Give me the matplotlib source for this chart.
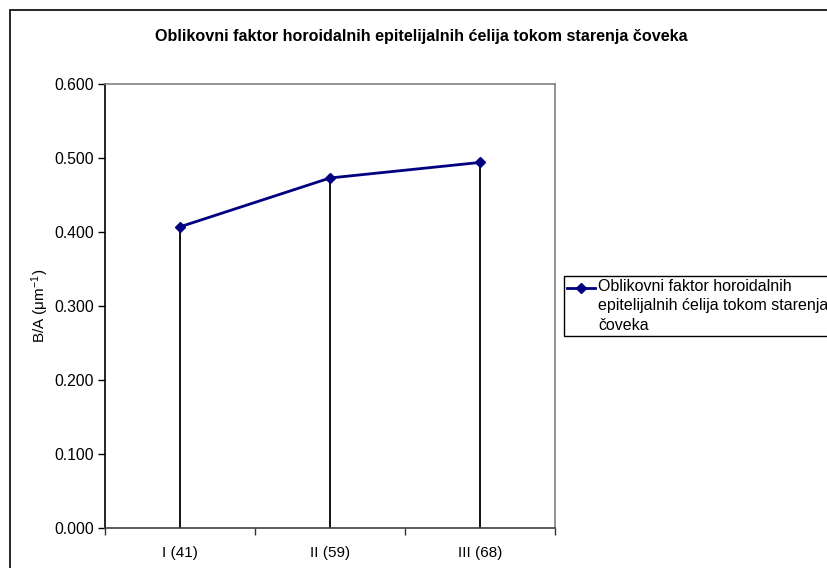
import matplotlib
matplotlib.use('Agg')
import matplotlib.pyplot as plt
from matplotlib.patches import Rectangle
from matplotlib.legend_handler import HandlerLine2D

plt.rcParams['font.family'] = ['Liberation Sans', 'DejaVu Sans']
plt.rcParams['mathtext.fontset'] = 'custom'
plt.rcParams['mathtext.rm'] = 'Liberation Sans'
plt.rcParams['mathtext.it'] = 'Liberation Sans:italic'

# data
categories = ['I (41)', 'II (59)', 'III (68)']
values = [0.407, 0.473, 0.494]
series_name = 'Oblikovni faktor horoidalnih\nepitelijalnih ćelija tokom starenja\nčoveka'
yticks = [0.0, 0.1, 0.2, 0.3, 0.4, 0.5, 0.6]


class TopLineHandler(HandlerLine2D):
    # put the legend line next to the first text line, like Excel does
    def create_artists(self, legend, orig_handle, xdescent, ydescent, width,
                       height, fontsize, trans):
        artists = super().create_artists(legend, orig_handle, xdescent, ydescent,
                                         width, height, fontsize, trans)
        for a in artists:
            a.set_ydata([y + 13 for y in a.get_ydata()])
        return artists


W, H = 827, 568
fig = plt.figure(figsize=(W / 100, H / 100), dpi=100)

# outer chart border (runs off right and bottom)
fig.patches.append(Rectangle((10 / W, -0.1), 1.2, 1 - 10 / H + 0.1,
                             transform=fig.transFigure, fill=False,
                             edgecolor='black', linewidth=1.2, zorder=0))

ax = fig.add_axes([105 / W, 1 - 528 / H, 450 / W, 444 / H])
x = list(range(len(categories)))

# drop lines
ax.vlines(x, 0, values, colors='black', linewidth=1.3, zorder=2)
line, = ax.plot(x, values, color='#000080', linewidth=2, marker='D', markersize=5,
                label=series_name, zorder=3, clip_on=False)

ax.set_xlim(-0.5, 2.5)
ax.set_ylim(0, 0.6)
ax.set_yticks(yticks)
ax.set_yticklabels(['%.3f' % v for v in yticks], fontsize=11.3)
ax.set_xticks([-0.5, 0.5, 1.5, 2.5])
ax.set_xticklabels([])
ax.set_xticks(x, minor=True)
ax.set_xticklabels(categories, minor=True, fontsize=11)
ax.tick_params(axis='x', which='minor', length=0, pad=13)
ax.tick_params(axis='x', which='major', direction='out', length=5, width=1, color='#333333')
ax.tick_params(axis='y', direction='out', length=5, width=1, pad=3)

ax.spines['top'].set_color('#808080')
ax.spines['right'].set_color('#808080')
ax.spines['left'].set_color('black')
ax.spines['bottom'].set_color('#404040')
for s in ax.spines.values():
    s.set_linewidth(1.2)

ax.set_ylabel('B/A (μm$^{-1}$)', fontsize=11, labelpad=2)

fig.text(421 / W, 1 - 37 / H,
         'Oblikovni faktor horoidalnih epitelijalnih ćelija tokom starenja čoveka',
         ha='center', va='center', fontsize=11.6, fontweight='bold')

leg = ax.legend(loc='upper left', bbox_to_anchor=(564 / W, 1 - 276 / H),
                bbox_transform=fig.transFigure, fontsize=11.5, frameon=True,
                fancybox=False, framealpha=1, edgecolor='black',
                borderpad=0.2, handlelength=1.75, handletextpad=0.2,
                borderaxespad=0, handler_map={line: TopLineHandler()})
leg.get_frame().set_linewidth(1)
for t in leg.get_texts():
    t.set_linespacing(1.35)

fig.savefig('out.png', dpi=100)
